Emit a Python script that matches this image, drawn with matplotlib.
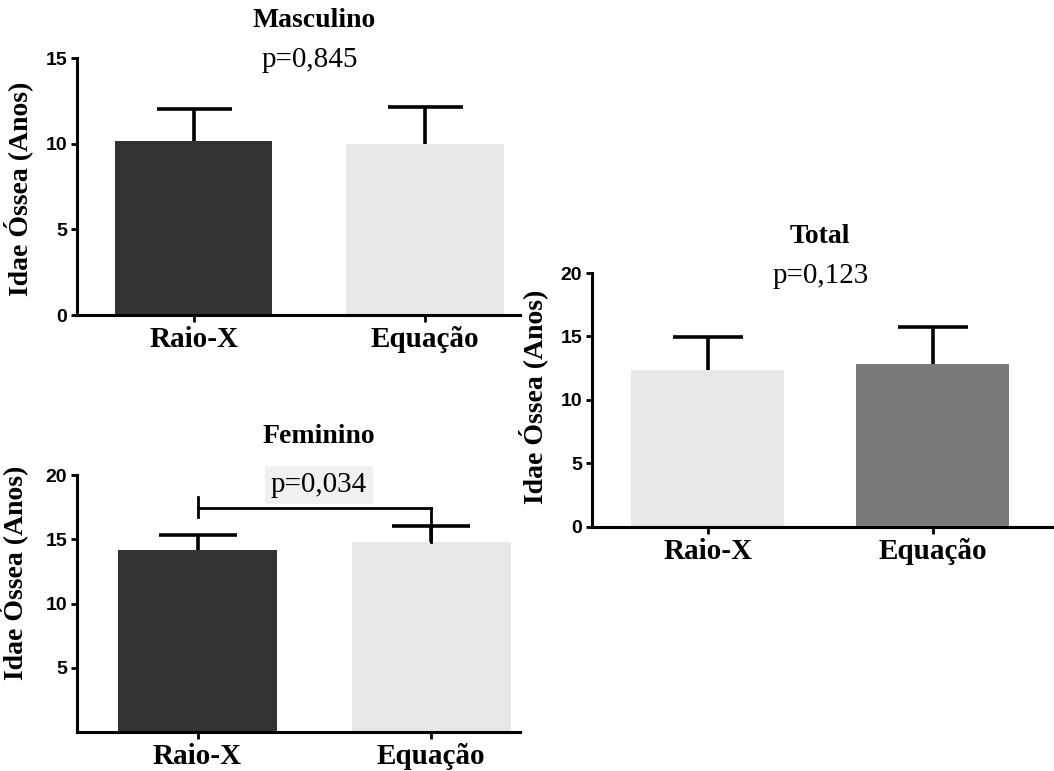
import numpy as np
import matplotlib
matplotlib.use("Agg")
import matplotlib.pyplot as plt

# dados (idade óssea média e desvio, em anos)
grupos = ["Raio-X", "Equação"]

masc_media = [10.15, 10.0]
masc_dp = [1.9, 2.15]
masc_p = "p=0,845"

fem_media = [14.15, 14.8]
fem_dp = [1.2, 1.2]
fem_p = "p=0,034"

total_media = [12.35, 12.8]
total_dp = [2.6, 2.95]
total_p = "p=0,123"

ESCURO = "#333333"
CLARO = "#e7e7e7"
MEDIO = "#7a7a7a"

SERIF = "Liberation Serif"
SANS = "Liberation Sans"

fig = plt.figure(figsize=(10.54, 7.71), dpi=100)

ax_m = fig.add_axes([0.0731, 0.5914, 0.4203, 0.3333])
ax_f = fig.add_axes([0.0731, 0.0506, 0.4203, 0.3333])
ax_t = fig.add_axes([0.5617, 0.3169, 0.4383, 0.3290])


def painel(ax, media, dp, cores, ylim, yticks, xlim, capsize):
    x = np.arange(len(grupos))
    ax.bar(x, media, width=0.68, color=cores, zorder=2)
    # só a metade superior do erro, sem traço na base
    _, caps, _ = ax.errorbar(x, media, yerr=[np.zeros(len(dp)), dp],
                             fmt="none", ecolor="black", elinewidth=2.6,
                             capsize=capsize, capthick=2.6, zorder=3)
    caps[0].set_visible(False)
    ax.set_xlim(*xlim)
    ax.set_ylim(*ylim)
    ax.set_xticks(x)
    ax.set_xticklabels(grupos, fontfamily=SERIF, fontweight="bold",
                       fontsize=21)
    ax.set_yticks(yticks)
    ax.set_yticklabels([str(t) for t in yticks], fontfamily=SANS,
                       fontweight="bold", fontsize=14)
    for s in ["top", "right"]:
        ax.spines[s].set_visible(False)
    for s in ["left", "bottom"]:
        ax.spines[s].set_linewidth(2.2)
    ax.tick_params(axis="y", length=4, width=2, pad=3)
    ax.tick_params(axis="x", length=5, width=2, pad=3)
    ax.set_ylabel("Idae Óssea (Anos)", fontfamily=SERIF, fontweight="bold",
                  fontsize=20)


# Masculino
painel(ax_m, masc_media, masc_dp, [ESCURO, CLARO], (0, 15), [0, 5, 10, 15],
       (-0.504, 1.41), 27)
ax_m.yaxis.set_label_coords(-0.099, 0.49)
ax_m.text(0.52, 17.2, "Masculino", ha="center", va="center",
          fontfamily=SERIF, fontweight="bold", fontsize=20, clip_on=False)
ax_m.text(0.5, 14.9, masc_p, ha="center", va="center",
          fontfamily=SERIF, fontsize=21, clip_on=False)

# Feminino
painel(ax_f, fem_media, fem_dp, [ESCURO, CLARO], (0, 20), [5, 10, 15, 20],
       (-0.516, 1.38), 28)
ax_f.yaxis.set_label_coords(-0.11, 0.62)
ax_f.text(0.52, 22.96, "Feminino", ha="center", va="center",
          fontfamily=SERIF, fontweight="bold", fontsize=20, clip_on=False)
# barra de significância entre os grupos
y_barra = 17.45
ax_f.plot([0, 1], [y_barra, y_barra], color="black", lw=2, zorder=4)
ax_f.plot([0, 0], [16.7, 18.3], color="black", lw=2, zorder=4)
ax_f.plot([1, 1], [y_barra, fem_media[1]], color="black", lw=2, zorder=4)
ax_f.text(0.52, 19.2, fem_p, ha="center", va="center",
          fontfamily=SERIF, fontsize=21, clip_on=False,
          bbox=dict(boxstyle="square,pad=0.2", facecolor="#f0f0f0",
                    edgecolor="none"))

# Total
painel(ax_t, total_media, total_dp, [CLARO, MEDIO], (0, 20),
       [0, 5, 10, 15, 20], (-0.515, 1.54), 25)
ax_t.yaxis.set_label_coords(-0.095, 0.51)
ax_t.text(0.5, 22.85, "Total", ha="center", va="center",
          fontfamily=SERIF, fontweight="bold", fontsize=20, clip_on=False)
ax_t.text(0.5, 19.8, total_p, ha="center", va="center",
          fontfamily=SERIF, fontsize=21, clip_on=False)

fig.savefig("out.png", dpi=100)
